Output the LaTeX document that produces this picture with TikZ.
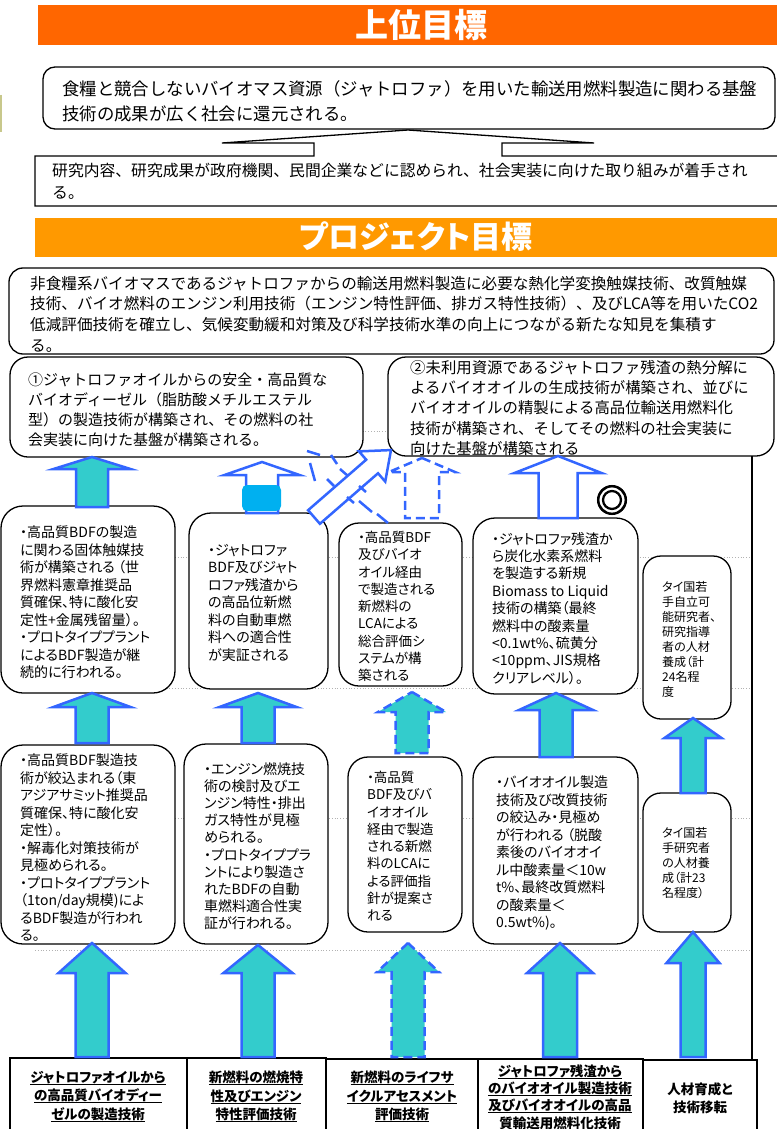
\documentclass[tikz,border=0pt]{standalone}
\usepackage{fontspec}
\setmainfont{Noto Sans CJK JP}[RawFeature=+palt]
\newfontfamily\monojp{Noto Sans CJK JP}
\newfontfamily\markjp{Noto Sans CJK JP}[FakeBold=4]
\usetikzlibrary{fit}
\definecolor{orangeA}{HTML}{FF6600}
\definecolor{orangeB}{HTML}{FF9900}
\definecolor{arrfill}{HTML}{33CCCC}
\definecolor{arrline}{HTML}{3366FF}
\definecolor{cyanrect}{HTML}{00B0F0}
\newcommand{\uparr}[7]{%
\path[#1] (#2,-#3) -- ({#2+#7},-#4) -- ({#2+#6},-#4) -- ({#2+#6},-#5) -- ({#2-#6},-#5) -- ({#2-#6},-#4) -- ({#2-#7},-#4) -- cycle;}
\newcommand{\ulx}[1]{\setbox0\hbox{#1}\rlap{\rule[-2.6pt]{\wd0}{1pt}}\box0}
\tikzset{
  box/.style={draw=black, line width=1.3pt, fill=white, inner sep=0pt, outer sep=0pt},
  rbox/.style={box, rounded corners=#1},
  txt/.style={anchor=north west, align=left, inner sep=0pt},
  arr/.style={draw=arrline, fill=arrfill, line width=2.5pt, line join=miter},
  harr/.style={draw=arrline, fill=white, line width=2.5pt, line join=miter},
  darr/.style={arr, dash pattern=on 9pt off 5pt},
  dharr/.style={draw=arrline, line width=2.5pt, dash pattern=on 9pt off 5pt},
  dots/.style={draw=gray!60, dotted, line width=0.8pt},
  head/.style={text=white, font=\bfseries\fontsize{33}{36}\selectfont, inner sep=0pt},
  lab/.style={align=center, inner sep=0pt, font=\bfseries\fontsize{13.5}{18.5}\selectfont},
  tick/.style={draw=arrline, line width=2.5pt}
}
\begin{document}
\begin{tikzpicture}[x=1pt,y=1pt]
\useasboundingbox (0,0) rectangle (776,-1129);
\fill[white] (0,0) rectangle (776,-1129);
% left small mark
\draw[line width=2pt, draw={rgb,255:red,200;green,200;blue,140}] (1,-95) -- (1,-132);
% banners
\fill[orangeA] (38,-5) rectangle (790,-45);
\node[head] (h1) at (421,-25) {上位目標};
\fill[orangeB] (35,-218) rectangle (790,-257);
\node[head, font=\bfseries\fontsize{31}{34}\selectfont] (h2) at (416,-237) {プロジェクト目標};
% dotted guide lines
\foreach \yy in {431,557,688,818,950} { \draw[dots] (35,-\yy) -- (750,-\yy); }
% box A
\node[rbox=12pt, fit={(43,-67)(775,-129)}] (A) {};
\node[txt, font=\monojp\fontsize{17.4}{25}\selectfont] (At) at (62,-80) {食糧と競合しないバイオマス資源（ジャトロファ）を用いた輸送用燃料製造に関わる基盤\\技術の成果が広く社会に還元される。};
% box B callout
\path[box] (35,-156) -- (314,-156) -- (314,-143) -- (222,-143) -- (408,-130) -- (594,-143) -- (502,-143) -- (502,-156) -- (790,-156) -- (790,-206) -- (35,-206) -- cycle;
\coordinate (B) at (405,-181);
\node[txt, font=\monojp\fontsize{15.8}{22}\selectfont] (Bt) at (52,-163) {研究内容、研究成果が政府機関、民間企業などに認められ、社会実装に向けた取り組みが着手され\\る。};
% box C
\node[rbox=14pt, fit={(9,-268)(774,-354)}] (C) {};
\node[txt, font=\monojp\fontsize{15.6}{20.6}\selectfont] (Ct) at (30,-276) {非食糧系バイオマスであるジャトロファからの輸送用燃料製造に必要な熱化学変換触媒技術、改質触媒\\技術、バイオ燃料のエンジン利用技術（エンジン特性評価、排ガス特性技術）、及びLCA等を用いたCO2\\低減評価技術を確立し、気候変動緩和対策及び科学技術水準の向上につながる新たな知見を集積す\\る。};
% D boxes
\node[rbox=18pt, fit={(10,-357)(363,-457)}] (D1) {};
\node[txt, font=\monojp\fontsize{15}{20}\selectfont] (D1t) at (28,-373) {①ジャトロファオイルからの安全・高品質な\\バイオディーゼル（脂肪酸メチルエステル\\型）の製造技術が構築され、その燃料の社\\会実装に向けた基盤が構築される。};
\node[rbox=18pt, fit={(388,-357)(774,-456)}] (D2) {};
\node[txt, font=\monojp\fontsize{15.4}{20.3}\selectfont] (D2t) at (410,-360) {②未利用資源であるジャトロファ残渣の熱分解に\\よるバイオオイルの生成技術が構築され、並びに\\バイオオイルの精製による高品位輸送用燃料化\\技術が構築され、そしてその燃料の社会実装に\\向けた基盤が構築される};
% right vertical line
\draw[line width=1.3pt] (752,-456) -- (752,-1060);
% row E
\node[rbox=22pt, fit={(1,-506)(175,-693)}] (E1) {};
\node[txt, font=\fontsize{14}{17.5}\selectfont] (E1t) at (20,-526) {・高品質BDFの製造\\に関わる固体触媒技\\術が構築される （世\\界燃料憲章推奨品\\質確保、特に酸化安\\定性+金属残留量）。\\・プロトタイププラント\\によるBDF製造が継\\続的に行われる。};
\node[rbox=22pt, fit={(189,-513)(328,-689)}] (E2) {};
\node[txt, font=\fontsize{14}{17.5}\selectfont] (E2t) at (208,-544) {・ジャトロファ\\BDF及びジャト\\ロファ残渣から\\の高品位新燃\\料の自動車燃\\料への適合性\\が実証される};
\node[rbox=20pt, fit={(339,-523)(462,-686)}] (E3) {};
\node[txt, font=\fontsize{13.5}{17.25}\selectfont] (E3t) at (358,-531) {・高品質BDF\\及びバイオ\\オイル経由\\で製造される\\新燃料の\\LCAによる\\総合評価シ\\ステムが構\\築される};
\node[rbox=22pt, fit={(473,-518)(638,-694)}] (E4) {};
\node[txt, font=\fontsize{14}{17.4}\selectfont] (E4t) at (492,-532) {・ジャトロファ残渣か\\ら炭化水素系燃料\\を製造する新規\\Biomass to Liquid\\技術の構築（最終\\燃料中の酸素量\\<0.1wt\%、硫黄分\\<10ppm、JIS規格\\クリアレベル）。};
\node[rbox=18pt, fit={(643,-556)(731,-719)}] (E5) {};
\node[txt, font=\fontsize{12}{15.1}\selectfont] (E5t) at (662,-581) {タイ国若\\手自立可\\能研究者、\\研究指導\\者の人材\\養成（計\\24名程\\度};
% row F
\node[rbox=22pt, fit={(1,-745)(175,-944)}] (F1) {};
\node[txt, font=\fontsize{14}{17.5}\selectfont] (F1t) at (20,-754) {・高品質BDF製造技\\術が絞込まれる（東\\アジアサミット推奨品\\質確保、特に酸化安\\定性）。\\・解毒化対策技術が\\見極められる。\\・プロトタイププラント\\（1ton/day規模)によ\\るBDF製造が行われ\\る。};
\node[rbox=22pt, fit={(184,-744)(328,-944)}] (F2) {};
\node[txt, font=\fontsize{14}{17.2}\selectfont] (F2t) at (204,-762) {・エンジン燃焼技\\術の検討及びエ\\ンジン特性・排出\\ガス特性が見極\\められる。\\・プロトタイププラ\\ントにより製造さ\\れたBDFの自動\\車燃料適合性実\\証が行われる。};
\node[rbox=20pt, fit={(348,-757)(462,-932)}] (F3) {};
\node[txt, font=\fontsize{13.5}{17.25}\selectfont] (F3t) at (367,-771) {・高品質\\BDF及びバ\\イオオイル\\経由で製造\\される新燃\\料のLCAに\\よる評価指\\針が提案さ\\れる};
\node[rbox=22pt, fit={(473,-757)(638,-944)}] (F4) {};
\node[txt, font=\fontsize{14}{17.5}\selectfont] (F4t) at (496,-776) {・バイオオイル製造\\技術及び改質技術\\の絞込み・見極め\\が行われる （脱酸\\素後のバイオオイ\\ル中酸素量＜10w\\t\%、最終改質燃料\\の酸素量＜\\0.5wt\%)。};
\node[rbox=18pt, fit={(643,-793)(731,-932)}] (F5) {};
\node[txt, font=\fontsize{12}{15}\selectfont] (F5t) at (662,-827) {タイ国若\\手研究者\\の人材養\\成（計23\\名程度）};
% bottom labels
\node[box, fit={(10,-1058)(187,-1140)}] (G1) {};
\node[box, fit={(187,-1058)(326,-1140)}] (G2) {};
\node[box, fit={(326,-1059)(478,-1140)}] (G3) {};
\node[box, fit={(478,-1059)(643,-1140)}] (G4) {};
\node[box, fit={(643,-1060)(757,-1140)}] (G5) {};
\node[lab] (G1t) at (98,-1096.5) {\ulx{ジャトロファオイルから}\\\ulx{の高品質バイオディー}\\\ulx{ゼルの製造技術}};
\node[lab] (G2t) at (256,-1096.5) {\ulx{新燃料の燃焼特}\\\ulx{性及びエンジン}\\\ulx{特性評価技術}};
\node[lab] (G3t) at (402,-1096.5) {\ulx{新燃料のライフサ}\\\ulx{イクルアセスメント}\\\ulx{評価技術}};
\node[lab, font=\bfseries\fontsize{13.5}{17.3}\selectfont] (G4t) at (560,-1097.5) {\ulx{ジャトロファ残渣から}\\\ulx{のバイオオイル製造技術}\\\ulx{及びバイオオイルの高品}\\\ulx{質輸送用燃料化技術}};
\node[lab, font=\bfseries\fontsize{13.5}{17.5}\selectfont] (G5t) at (700,-1098.5) {人材育成と\\技術移転};
% bottom arrows
\uparr{arr}{92}{943}{973}{1057}{16.5}{33.5}
\uparr{arr}{258}{945}{973}{1057}{16.5}{34.5}
\uparr{darr}{408}{943}{972}{1057}{16.5}{31}
\uparr{arr}{560}{943}{973}{1057}{17}{33}
\uparr{arr}{693}{932}{963}{1057}{12.5}{26.5}
% middle arrows
\uparr{arr}{92}{693}{707}{743}{16.5}{38.5}
\uparr{arr}{258}{693}{707}{743}{16.5}{38.5}
\uparr{darr}{412}{692}{712}{753}{16.5}{34}
\uparr{arr}{556}{693}{710}{757}{16.5}{37}
\uparr{arr}{693}{718}{738}{793}{12.5}{28.5}
% top arrows
\uparr{arr}{92}{457}{469}{507}{16}{38.5}
\uparr{harr}{262}{462}{475}{513}{16}{37.5}
\fill[cyanrect, rounded corners=5pt] (242,-485) rectangle (281,-511);
\uparr{dharr}{422}{458}{472}{518}{17}{33}
\uparr{harr}{558}{456}{473}{518}{19.5}{43.5}
% dashed remnants around the diagonal arrow
\draw[tick] (307,-451) -- (320,-455);
\draw[tick] (310,-463) -- (315,-481);
\draw[tick] (331,-455) -- (337,-464);
\draw[tick] (359,-501) -- (372,-512);
\draw[tick] (377,-514) -- (388,-523);
% diagonal hollow arrow
\begin{scope}[shift={(314,-517)}, rotate=41]
\path[harr] (0,-9) -- (77,-9) -- (77,-20) -- (102,0) -- (77,20) -- (77,9) -- (0,9) -- cycle;
\end{scope}
\draw[tick] (340,-469) -- (348,-476);
\draw[tick] (327,-479) -- (334,-486);
\draw[tick] (359,-486) -- (366,-492);
\draw[tick] (347,-497) -- (354,-503);
% double circle mark
\node[inner sep=0pt, font=\markjp\fontsize{32}{32}\selectfont] (mark) at (612,-500) {◎};
\end{tikzpicture}
\end{document}
